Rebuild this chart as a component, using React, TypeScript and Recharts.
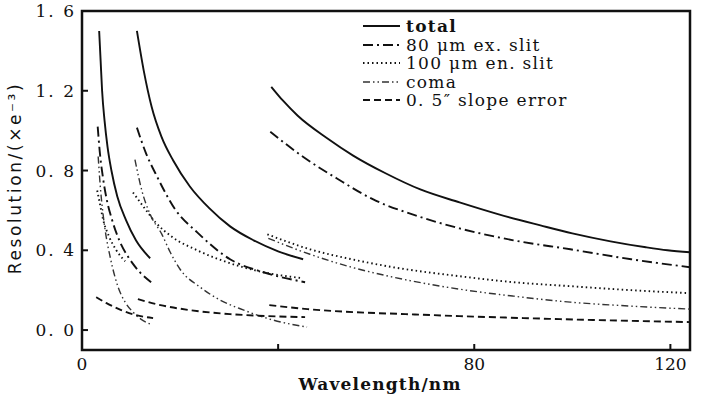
import { LineChart, Line, XAxis, YAxis, ReferenceArea, Legend, Label } from 'recharts';

// [wavelength (nm), resolution (x e-3)], three wavelength bands A/B/C
const totalA = [[3.5, 1.5], [3.8, 1.35], [4.1, 1.2], [4.6, 1.05], [5.2, 0.92], [6.0, 0.8], [7.2, 0.67], [9.0, 0.55], [11.0, 0.45], [13.9, 0.36]];
const totalB = [[11.2, 1.5], [12.6, 1.3], [14.2, 1.12], [16.2, 0.97], [18.6, 0.85], [22.0, 0.72], [26.0, 0.61], [30.2, 0.52], [35.0, 0.45], [40.0, 0.395], [45.1, 0.355]];
const totalC = [[38.6, 1.22], [41, 1.15], [44, 1.075], [50, 0.962], [55.3, 0.875], [62, 0.785], [69, 0.705], [77, 0.64], [85, 0.58], [93.5, 0.525], [100, 0.485], [107.8, 0.445], [115, 0.415], [119.4, 0.4], [124, 0.39]];

const exSlitA = [[3.2, 1.02], [3.6, 0.9], [4.3, 0.76], [5.0, 0.66], [6.1, 0.555], [7.6, 0.45], [9.6, 0.36], [11.8, 0.29], [14.1, 0.24]];
const exSlitB = [[11.2, 1.015], [13.0, 0.89], [15.3, 0.77], [19.0, 0.605], [23.5, 0.49], [30.2, 0.355], [37.0, 0.29], [45.5, 0.24]];
const exSlitC = [[38.4, 0.995], [45, 0.87], [52, 0.76], [59.4, 0.655], [68, 0.575], [77, 0.51], [88, 0.45], [99.6, 0.405], [112, 0.355], [124, 0.315]];

const enSlitA = [[3.1, 0.7], [3.6, 0.64], [4.3, 0.555], [5.5, 0.47], [7.0, 0.4], [8.8, 0.345]];
const enSlitB = [[10.4, 0.69], [12.5, 0.62], [15.0, 0.54], [18.5, 0.465], [23.5, 0.4], [30.2, 0.335], [37.0, 0.29], [45.0, 0.26]];
const enSlitC = [[37.8, 0.48], [46.5, 0.405], [55, 0.355], [63.5, 0.315], [77, 0.27], [88, 0.24], [99.6, 0.22], [112, 0.2], [124, 0.185]];

const comaA = [[3.3, 0.87], [3.8, 0.7], [4.3, 0.58], [4.7, 0.505], [5.8, 0.36], [7.3, 0.22], [8.8, 0.14], [10.4, 0.09], [12.0, 0.055], [13.9, 0.03]];
const comaB = [[10.8, 0.855], [12.2, 0.7], [13.9, 0.58], [16.3, 0.48], [18.0, 0.39], [20.0, 0.305], [24.1, 0.215], [28.2, 0.15], [33.0, 0.1], [39.0, 0.05], [45.9, 0.015]];
const comaC = [[38.0, 0.46], [46.5, 0.38], [55, 0.315], [63.5, 0.265], [77, 0.205], [88, 0.17], [99.6, 0.14], [112, 0.12], [124, 0.105]];

const slopeA = [[2.9, 0.165], [5.0, 0.135], [8.0, 0.1], [11.0, 0.075], [14.5, 0.06]];
const slopeB = [[11.4, 0.155], [16.0, 0.125], [22.0, 0.1], [30.2, 0.08], [38.0, 0.07], [45.5, 0.065]];
const slopeC = [[38.2, 0.125], [46, 0.105], [55.3, 0.09], [66, 0.08], [77, 0.07], [90, 0.06], [105, 0.05], [124, 0.04]];

const xTicks = [0, 40, 80, 120];
const xTickLabels = ['0', '', '80', '120'];
const yTicks = [0, 0.4, 0.8, 1.2, 1.6];
const yTickLabels = ['0. 0', '0. 4', '0. 8', '1. 2', '1. 6'];

const INK = '#111';

const styles: Record<string, { dash?: string; width: number; color: string }> = {
    total: { width: 1.9, color: INK },
    exSlit: { dash: '10 4 2 4', width: 1.9, color: INK },
    enSlit: { dash: '1.5 3', width: 1.9, color: INK },
    coma: { dash: '7 3 1.5 3 1.5 3', width: 1.4, color: '#333' },
    slope: { dash: '7 4', width: 1.9, color: INK }
};

const legendItems = [
    { kind: 'total', label: 'total' },
    { kind: 'exSlit', label: '80 μm ex. slit' },
    { kind: 'enSlit', label: '100 μm en. slit' },
    { kind: 'coma', label: 'coma' },
    { kind: 'slope', label: '0. 5″ slope error' }
];

const series = [
    { kind: 'total', pts: totalA }, { kind: 'total', pts: totalB }, { kind: 'total', pts: totalC },
    { kind: 'exSlit', pts: exSlitA }, { kind: 'exSlit', pts: exSlitB }, { kind: 'exSlit', pts: exSlitC },
    { kind: 'enSlit', pts: enSlitA }, { kind: 'enSlit', pts: enSlitB }, { kind: 'enSlit', pts: enSlitC },
    { kind: 'coma', pts: comaA }, { kind: 'coma', pts: comaB }, { kind: 'coma', pts: comaC },
    { kind: 'slope', pts: slopeA }, { kind: 'slope', pts: slopeB }, { kind: 'slope', pts: slopeC }
];

const serif = '"DejaVu Serif", "Liberation Serif", serif';

function YTick(props: any) {
    const { x, y, payload } = props;
    const i = yTicks.indexOf(payload.value);
    return (
        <g>
            <line x1={x + 5} x2={x + 11} y1={y} y2={y} stroke={INK} strokeWidth={2} />
            <text x={x - 1} y={y} dy="0.36em" textAnchor="end" fontFamily={serif} fontSize={17} fill={INK} letterSpacing={2}>
                {yTickLabels[i]}
            </text>
        </g>
    );
}

function XTick(props: any) {
    const { x, y, payload } = props;
    const i = xTicks.indexOf(payload.value);
    return (
        <g>
            <line x1={x} x2={x} y1={y - 8} y2={y - 14} stroke={INK} strokeWidth={2} />
            <text x={x} y={y} dy="0.72em" textAnchor="middle" fontFamily={serif} fontSize={17} fill={INK}>
                {xTickLabels[i]}
            </text>
        </g>
    );
}

function LegendBox() {
    return (
        <div style={{ fontFamily: serif, fontSize: 17, color: INK, lineHeight: '18.5px', letterSpacing: 1.3 }}>
            {legendItems.map((it) => {
                const s = styles[it.kind];
                return (
                    <div key={it.kind} style={{ display: 'flex', alignItems: 'center', height: 18.5, whiteSpace: 'nowrap' }}>
                        <svg width={37} height={10} style={{ marginRight: 6 }}>
                            <line x1={0} x2={37} y1={5} y2={5} stroke={s.color} strokeWidth={s.width} strokeDasharray={s.dash} />
                        </svg>
                        <span style={{ fontWeight: it.kind === 'total' ? 'bold' : 'normal' }}>{it.label}</span>
                    </div>
                );
            })}
        </div>
    );
}

export default function App() {
    return (
        <div style={{ position: 'absolute', left: 0, top: 0, width: 702, height: 396, background: '#fff' }}>
            <LineChart width={702} height={396} margin={{ top: 11, right: 12, left: 0, bottom: 16 }}>
                <XAxis
                    type="number"
                    dataKey="x"
                    domain={[0, 124]}
                    ticks={xTicks}
                    allowDataOverflow
                    height={30}
                    tickSize={0}
                    tickMargin={8}
                    axisLine={false}
                    tickLine={false}
                    tick={<XTick />}
                >
                    <Label
                        content={() => (
                            <text x={380} y={384} textAnchor="middle" dominantBaseline="central" fontFamily={serif} fontWeight="bold" fontSize={17} fill={INK} letterSpacing={1.2}>
                                Wavelength/nm
                            </text>
                        )}
                    />
                </XAxis>
                <YAxis
                    type="number"
                    domain={[-0.1, 1.6]}
                    ticks={yTicks}
                    allowDataOverflow
                    width={82}
                    tickSize={0}
                    tickMargin={5}
                    axisLine={false}
                    tickLine={false}
                    tick={<YTick />}
                >
                    <Label
                        content={() => (
                            <text x={15} y={178} transform="rotate(-90 15 178)" textAnchor="middle" dominantBaseline="central" fontFamily='"DejaVu Sans", sans-serif' fontSize={17} fill={INK} letterSpacing={2.6}>
                                Resolution/(×e⁻³)
                            </text>
                        )}
                    />
                </YAxis>
                <ReferenceArea x1={0} x2={124} y1={-0.1} y2={1.6} fill="none" stroke={INK} strokeWidth={2.5} ifOverflow="visible" />
                {series.map((s, i) => {
                    const st = styles[s.kind];
                    return (
                        <Line
                            key={i}
                            data={s.pts.map(([x, y]) => ({ x, y }))}
                            dataKey="y"
                            type="monotone"
                            dot={false}
                            stroke={st.color}
                            strokeWidth={st.width}
                            strokeDasharray={st.dash}
                            isAnimationActive={false}
                            legendType="none"
                        />
                    );
                })}
                <Legend
                    layout="horizontal"
                    align="center"
                    verticalAlign="middle"
                    content={<LegendBox />}
                    wrapperStyle={{ left: 363, top: 17, width: 300 }}
                />
            </LineChart>
        </div>
    );
}
